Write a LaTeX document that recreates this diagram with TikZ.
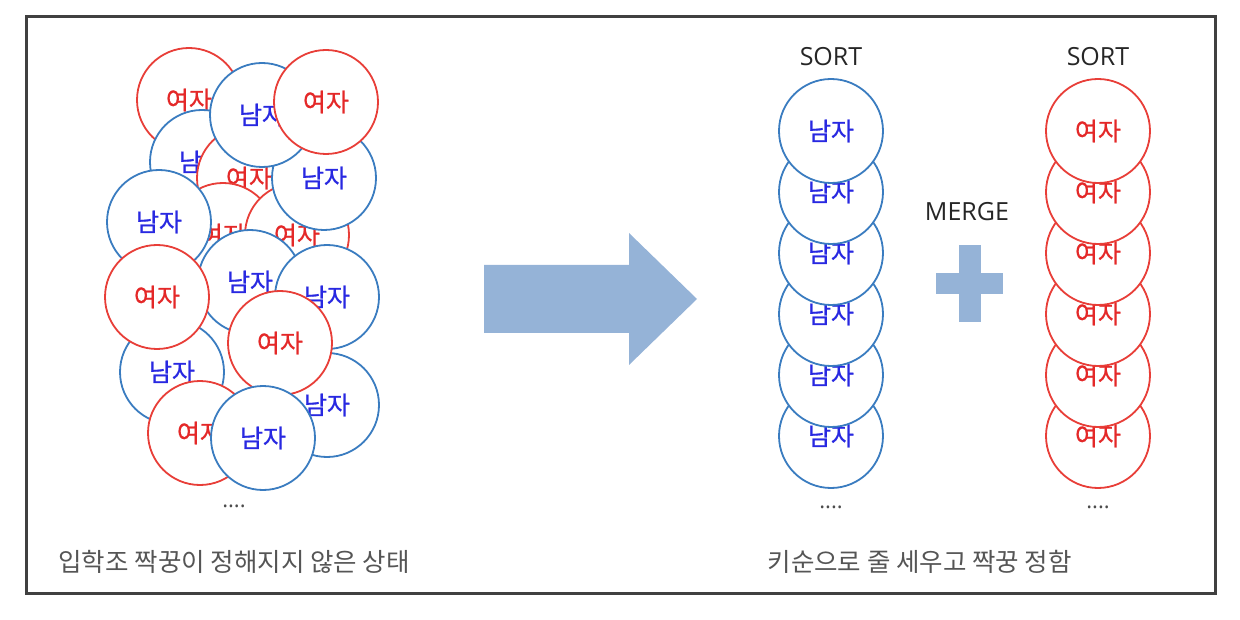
\documentclass[tikz,border=0pt]{standalone}
\usepackage{fontspec}
\setmainfont{Open Sans}
\newfontfamily\kofont{Noto Sans CJK KR}
\newfontfamily\kolabel[FakeBold=0.8]{Noto Sans CJK KR}
\definecolor{boyline}{RGB}{58,124,192}
\definecolor{boytext}{RGB}{40,40,225}
\definecolor{girlline}{RGB}{232,62,56}
\definecolor{girltext}{RGB}{228,40,40}
\definecolor{arrowblue}{RGB}{149,179,215}
\definecolor{captiongray}{RGB}{85,85,85}
\tikzstyle{boy}=[circle, draw=boyline, line width=1.8pt, fill=white, minimum size=104pt, inner sep=0pt, text=boytext, font=\kolabel\fontsize{25}{25}\selectfont]
\tikzstyle{girl}=[circle, draw=girlline, line width=1.8pt, fill=white, minimum size=104pt, inner sep=0pt, text=girltext, font=\kolabel\fontsize{25}{25}\selectfont]
\tikzstyle{caption}=[anchor=west, text=captiongray, font=\kofont\fontsize{25.5}{25.5}\selectfont]
\tikzstyle{title}=[text=black!85, font=\fontsize{25}{25}\selectfont]
\tikzstyle{more}=[text=black!70, font=\fontsize{22}{22}\selectfont]
\tikzstyle{bigarrow}=[fill=arrowblue]

\begin{document}
\begin{tikzpicture}[x=1pt, y=-1pt]
		   \useasboundingbox (0,0) rectangle (1240,620);
		   \draw[line width=3pt, black!75] (26,17) rectangle (1215,593);
		   % pile before pairing
		   \begin{scope}
			   \node (0) at (189, 100)[girl] {여자};
			   \node (1) at (202, 162)[boy] {남자};
			   \node (2) at (249, 178)[girl] {여자};
			   \node (3) at (223, 235)[girl] {여자};
			   \node (4) at (297, 235)[girl] {여자};
			   \node (5) at (324, 178)[boy] {남자};
			   \node (6) at (262, 115)[boy] {남자};
			   \node (7) at (326, 102)[girl] {여자};
			   \node (8) at (159, 222)[boy] {남자};
			   \node (9) at (250, 282)[boy] {남자};
			   \node (10) at (327, 297)[boy] {남자};
			   \node (11) at (172, 372)[boy] {남자};
			   \node (12) at (157, 297)[girl] {여자};
			   \node (13) at (327, 405)[boy] {남자};
			   \node (14) at (280, 343)[girl] {여자};
			   \node (15) at (200, 433)[girl] {여자};
			   \node (16) at (263, 438)[boy] {남자};
			   \node (pilemore) at (234, 506)[more] {....};
		   \end{scope}
		   % arrow
		   \fill[bigarrow] (484,265) -- (629,265) -- (629,233) -- (697,299) -- (629,365) -- (629,333) -- (484,333) -- cycle;
		   % sorted boys
		   \begin{scope}
			   \node (b5) at (831, 436)[boy] {남자};
			   \node (b4) at (831, 375)[boy] {남자};
			   \node (b3) at (831, 314)[boy] {남자};
			   \node (b2) at (831, 253)[boy] {남자};
			   \node (b1) at (831, 192)[boy] {남자};
			   \node (b0) at (831, 131)[boy] {남자};
			   \node (bsort) at (831, 57)[title] {SORT};
			   \node (bmore) at (831, 507)[more] {....};
		   \end{scope}
		   % sorted girls
		   \begin{scope}
			   \node (g5) at (1098, 436)[girl] {여자};
			   \node (g4) at (1098, 375)[girl] {여자};
			   \node (g3) at (1098, 314)[girl] {여자};
			   \node (g2) at (1098, 253)[girl] {여자};
			   \node (g1) at (1098, 192)[girl] {여자};
			   \node (g0) at (1098, 131)[girl] {여자};
			   \node (gsort) at (1098, 57)[title] {SORT};
			   \node (gmore) at (1098, 507)[more] {....};
		   \end{scope}
		   % merge
		   \node (merge) at (967, 212)[title] {MERGE};
		   \fill[bigarrow] (959,245) rectangle (981,322);
		   \fill[bigarrow] (936,273) rectangle (1003,294);
		   % captions
		   \node (before) at (55, 562)[caption] {입학조 짝꿍이 정해지지 않은 상태};
		   \node (after) at (764, 562)[caption] {키순으로 줄 세우고 짝꿍 정함};
	   \end{tikzpicture}
\end{document}
